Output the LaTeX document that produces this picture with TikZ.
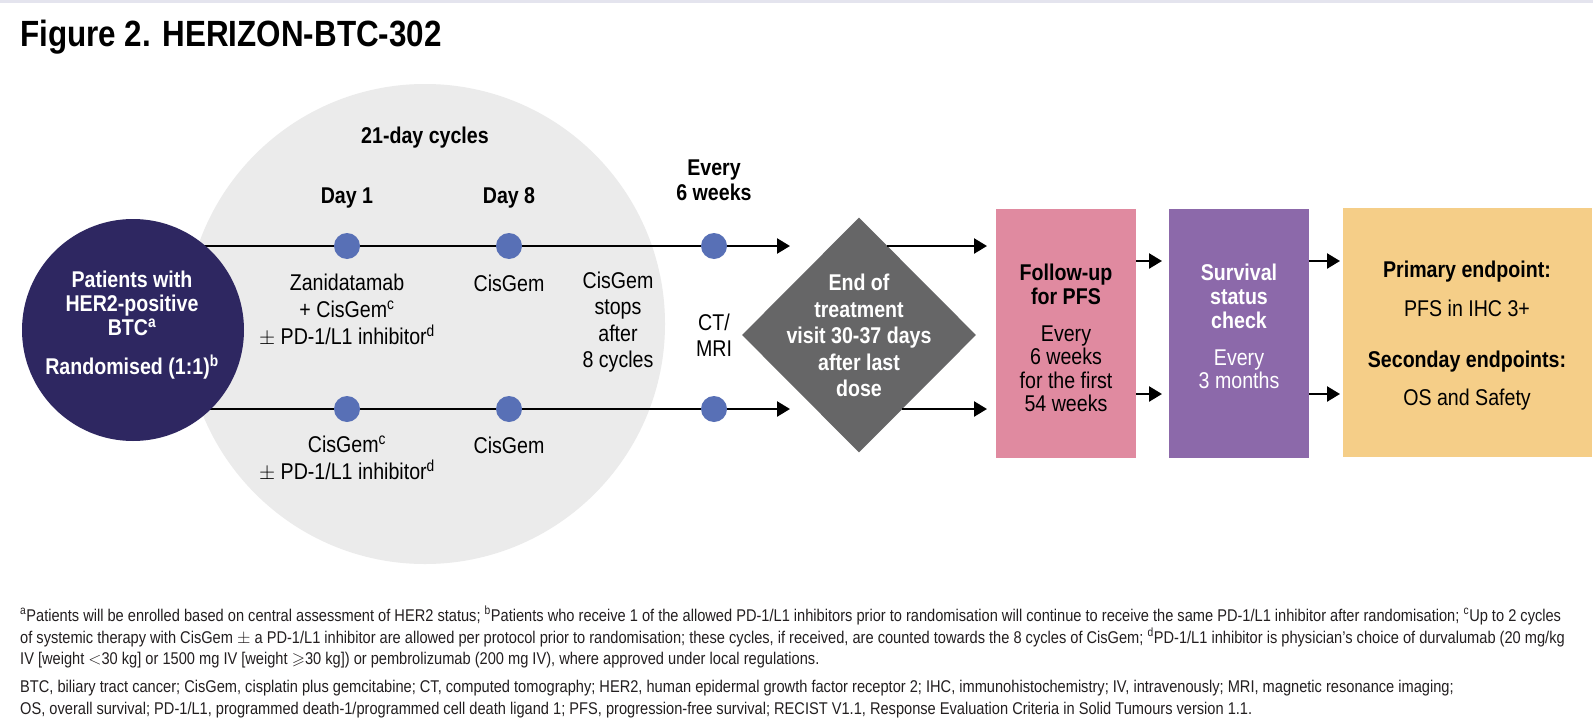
\documentclass[tikz,border=0pt]{standalone}
\usepackage{fontspec}
\setmainfont{Liberation Sans}[FakeStretch=0.86]
\usepackage{amssymb}
\usetikzlibrary{shapes.geometric,arrows.meta}
\definecolor{cyclegray}{HTML}{EBEBEB}
\definecolor{navyc}{HTML}{2E2761}
\definecolor{dotblue}{HTML}{5870B6}
\definecolor{diamc}{HTML}{666667}
\definecolor{pinkc}{HTML}{E08AA0}
\definecolor{purplec}{HTML}{8C69AA}
\definecolor{yellowc}{HTML}{F5CE88}
\definecolor{toplinec}{HTML}{E4E4EE}
\definecolor{notec}{HTML}{231F20}
\newcommand\fsz[2]{\fontsize{#1}{#2}\selectfont}
\begin{document}
\begin{tikzpicture}[x=1pt,y=-1pt,
  body/.style={font=\fsz{22.8}{27}, align=center, inner sep=0, text=black},
  bbody/.style={body, font=\fsz{22.8}{27}\bfseries},
  flow/.style={line width=2.5pt, -{Triangle[length=13pt,width=15pt]}},
  dotn/.style={circle, fill=dotblue, minimum size=26pt, inner sep=0},
  boxn/.style={anchor=north west, inner sep=0, minimum height=249pt},
  note/.style={anchor=base west, inner sep=0, font=\fsz{17}{19}, text=notec}
]
\useasboundingbox (0,0) rectangle (1593,728);
\fill[white] (0,0) rectangle (1593,728);
\fill[toplinec] (0,0) rectangle (1593,3);

\node[anchor=west, inner sep=0, font=\fsz{36.5}{40}\bfseries] (title) at (20,37) {Figure 2. HERIZON-BTC-302};

% cycle circle
\node[circle, fill=cyclegray, minimum size=480pt, inner sep=0] (cyc) at (425,324) {};
\node[bbody] (cyclab) at (425,138) {21-day cycles};
\node[bbody] (d1lab) at (347,198) {Day 1};
\node[bbody] (d8lab) at (509,198) {Day 8};
\node[bbody, font=\fsz{22.8}{25}\bfseries] (e6lab) at (714,180.5) {Every\\6 weeks};

% arm lines
\coordinate (sT) at (133,246);
\coordinate (sB) at (133,409);
\coordinate (tT) at (790,246);
\coordinate (tB) at (790,409);
\draw[flow] (sT) -- (tT);
\draw[flow] (sB) -- (tB);

% randomisation circle
\node[circle, fill=navyc, minimum size=222pt, inner sep=0] (rand) at (133,330) {};
\node[bbody, text=white, font=\fsz{22.8}{24}\bfseries] (randa) at (132,303) {Patients with\\HER2-positive\\BTC\textsuperscript{a}};
\node[bbody, text=white] (randb) at (132,367) {Randomised (1:1)\textsuperscript{b}};

% dots
\node[dotn] (u1) at (347,246) {};
\node[dotn] (u8) at (509,246) {};
\node[dotn] (u6) at (714,246) {};
\node[dotn] (l1) at (347,409) {};
\node[dotn] (l8) at (509,409) {};
\node[dotn] (l6) at (714,409) {};

% arm texts
\node[body] (ua) at (347,310) {Zanidatamab\\+ CisGem\textsuperscript{c}\\$\pm$ PD-1/L1 inhibitor\textsuperscript{d}};
\node[body] (ub) at (509,283) {CisGem};
\node[body, font=\fsz{22.8}{26.5}] (stop) at (618,322) {CisGem\\stops\\after\\8 cycles};
\node[body, font=\fsz{22.8}{26}] (ct) at (714,335) {CT/\\MRI};
\node[body] (la) at (347,458.5) {CisGem\textsuperscript{c}\\$\pm$ PD-1/L1 inhibitor\textsuperscript{d}};
\node[body] (lb) at (509,445) {CisGem};

% end of treatment
\node[diamond, fill=diamc, minimum width=234pt, minimum height=235pt, inner sep=0] (eot) at (859,335) {};
\node[bbody, text=white, font=\fsz{22.8}{26.5}\bfseries] (eottxt) at (859,335.5) {End of\\treatment\\visit 30-37 days\\after last\\dose};

% boxes
\node[boxn, fill=pinkc, minimum width=140pt] (fu) at (996,209) {};
\node[boxn, fill=purplec, minimum width=140pt] (surv) at (1169,209) {};
\node[boxn, fill=yellowc, minimum width=249pt] (endp) at (1343,208) {};

\node[bbody, font=\fsz{22.8}{24}\bfseries] (futa) at (1066,284) {Follow-up\\for PFS};
\node[body, font=\fsz{22.8}{23.5}] (futb) at (1066,369) {Every\\6 weeks\\for the first\\54 weeks};
\node[bbody, text=white, font=\fsz{22.8}{24}\bfseries] (sva) at (1239,296) {Survival\\status\\check};
\node[body, text=white, font=\fsz{22.8}{23.5}] (svb) at (1239,369.5) {Every\\3 months};
\node[bbody] (ep1) at (1467,272) {Primary endpoint:};
\node[body] (ep2) at (1467,308) {PFS in IHC 3+};
\node[bbody] (ep3) at (1467,362) {Seconday endpoints:};
\node[body] (ep4) at (1467,400) {OS and Safety};

% connectors right part
\coordinate (eT) at (887,246);
\coordinate (eB) at (902,409);
\coordinate (fT) at (987,246);
\coordinate (fB) at (987,409);
\draw[flow] (eT) -- (fT);
\draw[flow] (eB) -- (fB);
\coordinate (gT) at (1162,261);
\coordinate (gB) at (1162,394);
\draw[flow] (fu.east |- gT) -- (gT);
\draw[flow] (fu.east |- gB) -- (gB);
\coordinate (hT) at (1340,261);
\coordinate (hB) at (1340,394);
\draw[flow] (surv.east |- hT) -- (hT);
\draw[flow] (surv.east |- hB) -- (hB);

% footnotes
\node[note] (n1) at (20,621) {\textsuperscript{a}Patients will be enrolled based on central assessment of HER2 status; \textsuperscript{b}Patients who receive 1 of the allowed PD-1/L1 inhibitors prior to randomisation will continue to receive the same PD-1/L1 inhibitor after randomisation; \textsuperscript{c}Up to 2 cycles};
\node[note] (n2) at (20,643) {of systemic therapy with CisGem $\pm$ a PD-1/L1 inhibitor are allowed per protocol prior to randomisation; these cycles, if received, are counted towards the 8 cycles of CisGem; \textsuperscript{d}PD-1/L1 inhibitor is physician’s choice of durvalumab (20 mg/kg};
\node[note] (n3) at (20,664) {IV [weight $<$30 kg] or 1500 mg IV [weight $\geqslant$30 kg]) or pembrolizumab (200 mg IV), where approved under local regulations.};
\node[note] (n4) at (20,692) {BTC, biliary tract cancer; CisGem, cisplatin plus gemcitabine; CT, computed tomography; HER2, human epidermal growth factor receptor 2; IHC, immunohistochemistry; IV, intravenously; MRI, magnetic resonance imaging;};
\node[note] (n5) at (20,714) {OS, overall survival; PD-1/L1, programmed death-1/programmed cell death ligand 1; PFS, progression-free survival; RECIST V1.1, Response Evaluation Criteria in Solid Tumours version 1.1.};
\end{tikzpicture}
\end{document}
